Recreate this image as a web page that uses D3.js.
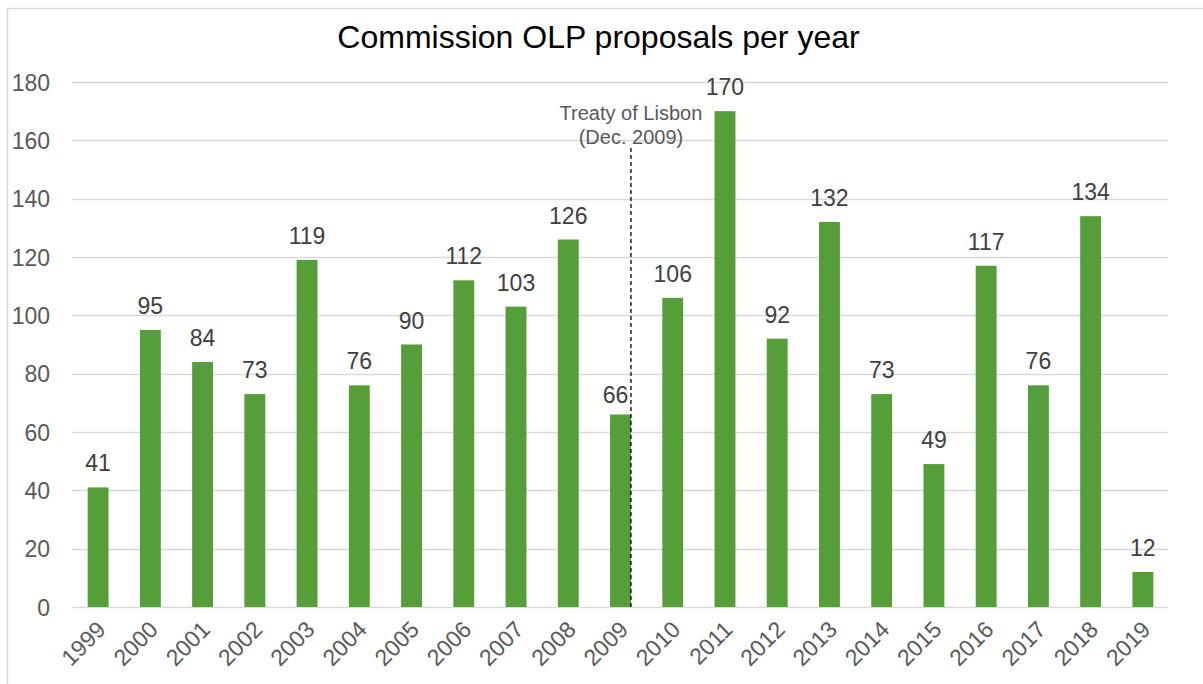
<!DOCTYPE html>
<html>
<head>
<meta charset="utf-8">
<script src="https://cdn.jsdelivr.net/npm/d3@7"></script>
<style>
  html, body { margin: 0; padding: 0; background: #fff; }
  svg { display: block; font-family: "Liberation Sans", Arial, sans-serif; }
</style>
</head>
<body>
<svg id="chart" width="1203" height="684"></svg>
<script>
// Commission OLP proposals per year
const years = ["1999","2000","2001","2002","2003","2004","2005","2006","2007","2008","2009",
               "2010","2011","2012","2013","2014","2015","2016","2017","2018","2019"];
const proposals = [41, 95, 84, 73, 119, 76, 90, 112, 103, 126, 66,
                   106, 170, 92, 132, 73, 49, 117, 76, 134, 12];
const yTicks = [0, 20, 40, 60, 80, 100, 120, 140, 160, 180];
const titleText = "Commission OLP proposals per year";
const markerYear = "2009";
const markerLines = ["Treaty of Lisbon", "(Dec. 2009)"];

const svg = d3.select("#chart");
const W = 1203, H = 684;
const plot = { left: 72, right: 1169, top: 82, bottom: 607 };
const FONT = "Liberation Sans, Arial, sans-serif";

// outer chart frame
svg.append("rect")
  .attr("x", 7.5).attr("y", 8.5)
  .attr("width", W).attr("height", H)
  .attr("fill", "#fff").attr("stroke", "#d9d9d9").attr("stroke-width", 1.5);

const x = d3.scaleBand().domain(years).range([plot.left, plot.right])
  .paddingInner(0.6).paddingOuter(0.3);
const y = d3.scaleLinear().domain([0, 180]).range([plot.bottom, plot.top]);

// gridlines
svg.append("g").selectAll("line").data(yTicks).join("line")
  .attr("x1", plot.left).attr("x2", plot.right - 1)
  .attr("y1", d => Math.round(y(d)) + 0.5).attr("y2", d => Math.round(y(d)) + 0.5)
  .attr("stroke", "#d9d9d9").attr("stroke-width", 1.5);

// y axis labels
const yAxis = d3.axisLeft(y).tickValues(yTicks).tickSize(0).tickPadding(0);
const gy = svg.append("g").attr("transform", `translate(${plot.left - 22},0)`).call(yAxis);
gy.select(".domain").remove();
gy.selectAll("text").attr("font-size", 23).attr("fill", "#595959")
  .attr("font-family", FONT).attr("dy", "0.35em");

// bars
svg.append("g").selectAll("rect").data(years).join("rect")
  .attr("x", d => x(d)).attr("width", x.bandwidth())
  .attr("y", (d, i) => y(proposals[i]))
  .attr("height", (d, i) => y(0) - y(proposals[i]))
  .attr("fill", "#559e3a");

// value labels (the one beside the marker line is nudged clear of it)
svg.append("g").selectAll("text").data(years).join("text")
  .attr("x", d => x(d) + x.bandwidth() / 2 + (d === markerYear ? -5 : 0))
  .attr("y", (d, i) => y(proposals[i]) - (d === markerYear ? 12 : 16))
  .attr("text-anchor", "middle")
  .attr("font-size", 23).attr("fill", "#404040")
  .text((d, i) => proposals[i]);

// x axis labels (rotated)
const xAxis = d3.axisBottom(x).tickSize(0).tickPadding(0);
const gx = svg.append("g").attr("transform", `translate(0,${plot.bottom})`).call(xAxis);
gx.select(".domain").remove();
gx.selectAll("text")
  .attr("font-size", 23).attr("fill", "#595959")
  .attr("font-family", FONT)
  .attr("text-anchor", "end")
  .attr("y", 0).attr("dy", 0)
  .attr("transform", "translate(9,24) rotate(-45)");

// treaty marker at the right edge of the 2009 bar
const mx = x(markerYear) + x.bandwidth();
svg.append("line")
  .attr("x1", mx).attr("x2", mx)
  .attr("y1", 148).attr("y2", plot.bottom)
  .attr("stroke", "#000").attr("stroke-width", 1.3)
  .attr("stroke-dasharray", "4,3");
svg.append("g").selectAll("text").data(markerLines).join("text")
  .attr("x", mx).attr("y", (d, i) => 119.5 + i * 24.5)
  .attr("text-anchor", "middle")
  .attr("font-size", 20).attr("fill", "#595959")
  .text(d => d);

// title
svg.append("text")
  .attr("x", 598.5).attr("y", 47.5)
  .attr("text-anchor", "middle")
  .attr("font-size", 32).attr("fill", "#000")
  .text(titleText);
</script>
</body>
</html>
